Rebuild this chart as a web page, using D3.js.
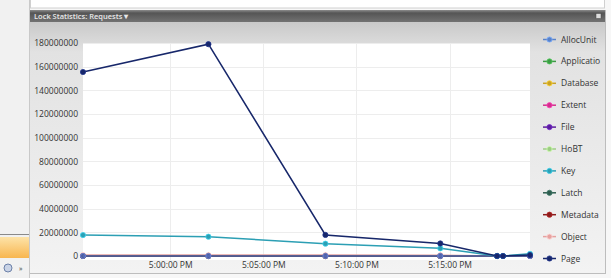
<!DOCTYPE html>
<html>
<head>
<meta charset="utf-8">
<script src="https://cdn.jsdelivr.net/npm/d3@7"></script>
<style>
  html, body { margin: 0; padding: 0; background: #f7f7f7; }
  svg { display: block; font-family: "Open Sans", "Noto Sans", sans-serif; }
</style>
</head>
<body>
<svg width="611" height="278"></svg>
<script>
// sample times (HH:MM:SS, PM)
const times = ["16:55:19", "17:02:03", "17:08:20", "17:14:30", "17:17:33", "17:17:52", "17:19:19"];

const seriesNames = ["AllocUnit", "Applicatio", "Database", "Extent", "File", "HoBT", "Key", "Latch", "Metadata", "Object", "Page"];
const seriesColors = ["#5a82c8", "#3d9a45", "#c9a227", "#d3308c", "#5b1f9c", "#9ccc84", "#2c9fb4", "#2f5d50", "#8a1c1c", "#e6a2a0", "#17276a"];

// values per series, one per time
const allocUnit  = [0, 0, 0, 0, 0, 0, 0];
const applicatio = [0, 0, 0, 0, 0, 0, 0];
const database   = [0, 0, 0, 0, 0, 0, 0];
const extent     = [0, 0, 0, 0, 0, 0, 0];
const file       = [0, 0, 0, 0, 0, 0, 0];
const hobt       = [0, 0, 0, 0, 0, 0, 0];
const key        = [17700000, 16300000, 10400000, 6500000, 0, 0, 1800000];
const latch      = [0, 0, 0, 0, 0, 0, 0];
const metadata   = [200000, 200000, 200000, 150000, 0, 0, 0];
const object     = [800000, 800000, 800000, 700000, 0, 0, 0];
const page       = [155500000, 179000000, 17800000, 10600000, 0, 0, 800000];

const seriesValues = [allocUnit, applicatio, database, extent, file, hobt, key, latch, metadata, object, page];

const yTicks = [0, 20000000, 40000000, 60000000, 80000000, 100000000, 120000000, 140000000, 160000000, 180000000];

const parseTime = d3.timeParse("%H:%M:%S");
const dates = times.map(parseTime);

const svg = d3.select("svg");
const defs = svg.append("defs");

// backgrounds
svg.append("rect").attr("x", 0).attr("y", 0).attr("width", 611).attr("height", 278).attr("fill", "#f7f7f7");

// left side strip
svg.append("rect").attr("x", 0).attr("y", 0).attr("width", 29).attr("height", 278).attr("fill", "#f1f1f1");
const orange = defs.append("linearGradient").attr("id", "orange").attr("x1", 0).attr("y1", 0).attr("x2", 0).attr("y2", 1);
orange.append("stop").attr("offset", 0).attr("stop-color", "#fde3a8");
orange.append("stop").attr("offset", 1).attr("stop-color", "#f8b650");
svg.append("line").attr("x1", 0).attr("x2", 29).attr("y1", 234.5).attr("y2", 234.5).attr("stroke", "#8a8a8a");
svg.append("rect").attr("x", 0).attr("y", 237).attr("width", 29).attr("height", 21).attr("fill", "url(#orange)");
svg.append("circle").attr("cx", 8).attr("cy", 268).attr("r", 4).attr("fill", "#c9d3e6").attr("stroke", "#6c80a8");
svg.append("text").attr("x", 19).attr("y", 271).attr("font-size", 7).attr("fill", "#333").text("»");
svg.append("line").attr("x1", 29.5).attr("x2", 29.5).attr("y1", 0).attr("y2", 278).attr("stroke", "#c9c9c9");

// top white panel
svg.append("rect").attr("x", 30.5).attr("y", -1).attr("width", 574).attr("height", 9).attr("fill", "#ffffff").attr("stroke", "#d0d0d0");

// title bar
const titleGrad = defs.append("linearGradient").attr("id", "titleGrad").attr("x1", 0).attr("y1", 0).attr("x2", 0).attr("y2", 1);
titleGrad.append("stop").attr("offset", 0).attr("stop-color", "#8c8c8c");
titleGrad.append("stop").attr("offset", 0.25).attr("stop-color", "#555555");
titleGrad.append("stop").attr("offset", 1).attr("stop-color", "#727272");
svg.append("rect").attr("x", 30).attr("y", 10).attr("width", 575).attr("height", 12).attr("fill", "url(#titleGrad)");
svg.append("text").attr("x", 34).attr("y", 19).attr("font-size", 7.5).attr("font-weight", 600)
  .attr("fill", "#e8e8e8").text("Lock Statistics: Requests \u25BE");
svg.append("rect").attr("x", 596).attr("y", 13.5).attr("width", 5).attr("height", 5).attr("fill", "#dddddd").attr("stroke", "#444").attr("stroke-width", 0.5);

// chart panel background
const panelGrad = defs.append("linearGradient").attr("id", "panelGrad").attr("x1", 0).attr("y1", 0).attr("x2", 0).attr("y2", 1);
panelGrad.append("stop").attr("offset", 0).attr("stop-color", "#c9c9c9");
panelGrad.append("stop").attr("offset", 0.12).attr("stop-color", "#e2e2e2");
panelGrad.append("stop").attr("offset", 1).attr("stop-color", "#f3f3f3");
svg.append("rect").attr("x", 30).attr("y", 22).attr("width", 575).attr("height", 251).attr("fill", "url(#panelGrad)");
svg.append("line").attr("x1", 605.5).attr("x2", 605.5).attr("y1", 10).attr("y2", 273).attr("stroke", "#bdbdbd");
svg.append("line").attr("x1", 30).attr("x2", 606).attr("y1", 273.5).attr("y2", 273.5).attr("stroke", "#bdbdbd");

// plot area
const plotLeft = 83, plotRight = 530, plotTop = 43, plotZero = 256;

const x = d3.scaleTime().domain(d3.extent(dates)).range([plotLeft, plotRight]);
const y = d3.scaleLinear().domain([0, 180000000]).range([plotZero, plotTop]);

svg.append("rect").attr("x", plotLeft).attr("y", plotTop).attr("width", plotRight - plotLeft).attr("height", 260 - plotTop)
  .attr("fill", "#ffffff");

const xTicks = x.ticks(d3.timeMinute.every(5));

// gridlines
svg.append("g").selectAll("line").data(yTicks.slice(1)).join("line")
  .attr("x1", plotLeft).attr("x2", plotRight)
  .attr("y1", d => Math.round(y(d)) + 0.5).attr("y2", d => Math.round(y(d)) + 0.5)
  .attr("stroke", "#ededed");
svg.append("g").selectAll("line").data(xTicks).join("line")
  .attr("x1", d => Math.round(x(d)) + 0.5).attr("x2", d => Math.round(x(d)) + 0.5)
  .attr("y1", plotTop).attr("y2", 260)
  .attr("stroke", "#ededed");

// y axis labels
const yAxis = d3.axisLeft(y).tickValues(yTicks).tickSize(0).tickPadding(0).tickFormat(d3.format("d"));
const yg = svg.append("g").attr("transform", "translate(78,0)").call(yAxis);
yg.select(".domain").remove();
yg.selectAll("text").attr("font-size", 8.5).attr("fill", "#333").attr("font-family", "Open Sans, sans-serif");

// x axis labels
const xAxis = d3.axisBottom(x).tickValues(xTicks).tickSize(0).tickPadding(0).tickFormat(d3.timeFormat("%-I:%M:%S %p"));
const xg = svg.append("g").attr("transform", "translate(0,262)").call(xAxis);
xg.select(".domain").remove();
xg.selectAll("text").attr("font-size", 8.5).attr("fill", "#333").attr("font-family", "Open Sans, sans-serif");

// series: lines then markers; File and AllocUnit sit half transparent over Latch at zero -> slate look
const line = d3.line().x((d, i) => x(dates[i])).y(d => y(d));
const drawOrder = [1, 2, 3, 5, 8, 9, 7, 4, 0, 6, 10];
drawOrder.forEach(s => {
  const col = seriesColors[s];
  const op = (s === 4 || s === 0) ? 0.5 : 1;
  svg.append("path").datum(seriesValues[s]).attr("d", line)
    .attr("fill", "none").attr("stroke", col).attr("stroke-opacity", op).attr("stroke-width", 1.5);
  svg.append("g").selectAll("circle").data(seriesValues[s]).join("circle")
    .attr("cx", (d, i) => x(dates[i])).attr("cy", d => y(d)).attr("r", 2.6)
    .attr("fill", col).attr("fill-opacity", op)
    .attr("stroke", d3.color(col).brighter(0.8)).attr("stroke-opacity", op).attr("stroke-width", 0.8);
});

// legend
const legend = svg.append("g").attr("transform", "translate(543,0)");
const items = legend.selectAll("g").data(seriesNames).join("g")
  .attr("transform", (d, i) => `translate(0,${39.5 + i * 21.9})`);
items.append("line").attr("x1", 0).attr("x2", 13).attr("y1", 0).attr("y2", 0)
  .attr("stroke", (d, i) => seriesColors[i]).attr("stroke-width", 1.5);
items.append("circle").attr("cx", 6.5).attr("cy", 0).attr("r", 2.6)
  .attr("fill", (d, i) => seriesColors[i]).attr("stroke", (d, i) => d3.color(seriesColors[i]).brighter(0.8)).attr("stroke-width", 0.8);
items.append("text").attr("x", 18).attr("y", 3).attr("font-size", 8.5).attr("fill", "#333").text(d => d);
</script>
</body>
</html>
